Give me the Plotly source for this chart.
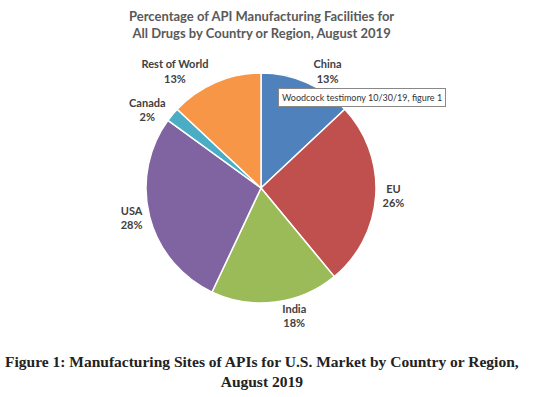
import plotly.graph_objects as go

regions = ["China", "EU", "India", "USA", "Canada", "Rest of World"]
shares = [13, 26, 18, 28, 2, 13]
colors = ["#4F81BD", "#C0504D", "#9BBB59", "#8064A2", "#4BACC6", "#F79646"]

W, H = 540, 397
cx, cy, r = 261, 188, 115

fig = go.Figure(go.Pie(
    labels=regions,
    values=shares,
    sort=False,
    direction="clockwise",
    rotation=0,
    marker=dict(colors=colors, line=dict(color="white", width=1.5)),
    texttemplate="<b>%{label}</b><br><b>%{percent:.0%}</b>",
    textposition="outside",
    textfont=dict(family="Lato, Open Sans, sans-serif", size=11, color="#404040"),
    outsidetextfont=dict(family="Lato, Open Sans, sans-serif", size=11, color="#404040"),
    hoverinfo="label+percent",
    showlegend=False,
    domain=dict(x=[(cx - r) / W, (cx + r) / W], y=[(H - cy - r) / H, (H - cy + r) / H]),
))

fig.update_layout(
    width=W, height=H,
    margin=dict(l=0, r=0, t=0, b=0),
    paper_bgcolor="white",
    annotations=[
        dict(text="<b>Percentage of API Manufacturing Facilities for<br>All Drugs by Country or Region, August 2019</b>",
             x=261 / W, y=1 - 25 / H, xref="paper", yref="paper", showarrow=False,
             font=dict(family="Lato, Open Sans, sans-serif", size=13, color="#595959"),
             xanchor="center", yanchor="middle"),
        dict(text="Woodcock testimony 10/30/19, figure 1",
             x=278 / W, y=1 - 97 / H, xref="paper", yref="paper", showarrow=False,
             xanchor="left", yanchor="middle",
             font=dict(family="Lato, Open Sans, sans-serif", size=9, color="#333333"),
             bgcolor="white", bordercolor="#888888", borderwidth=1, borderpad=3),
        dict(text="<b>Figure 1: Manufacturing Sites of APIs for U.S. Market by Country or Region,<br>August 2019</b>",
             x=262 / W, y=1 - 371 / H, xref="paper", yref="paper", showarrow=False,
             xanchor="center", yanchor="middle",
             font=dict(family="Liberation Serif, Times New Roman, serif", size=15.5, color="#222222")),
    ],
)

fig.write_html("out.html", config={"displayModeBar": False},
               post_script="document.body.style.margin='0';")
